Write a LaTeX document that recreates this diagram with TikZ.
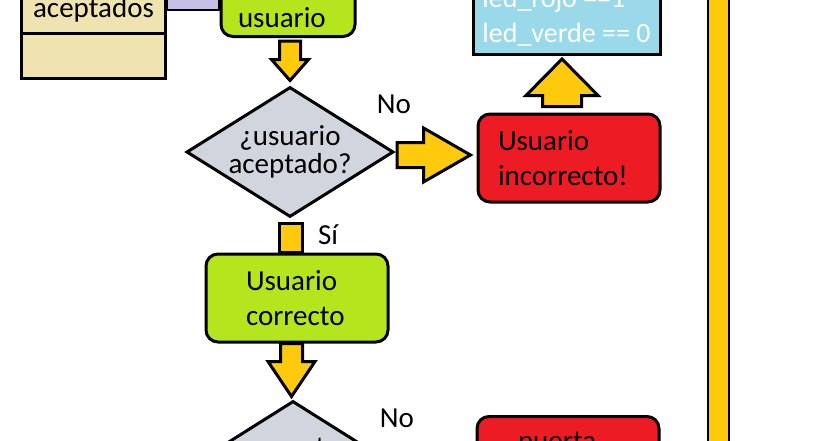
\documentclass[tikz,border=0pt]{standalone}
\usepackage{fontspec}
\setmainfont{Carlito}
\usepackage{xcolor}
\usepackage{tikz}
\usetikzlibrary{calc,shapes.geometric,shapes.multipart}
\definecolor{gold}{HTML}{FFC90E}
\definecolor{lime}{HTML}{B5E61D}
\definecolor{flowred}{HTML}{ED1C24}
\definecolor{sky}{HTML}{99D9EA}
\definecolor{cream}{HTML}{EFE4B0}
\definecolor{lavender}{HTML}{C8BFE7}
\definecolor{diamondgray}{HTML}{D1D5DE}

\begin{document}
\begin{tikzpicture}[x=1pt,y=1pt,
      txt/.style={font=\fontsize{29pt}{35pt}\selectfont},
      procbox/.style={
        txt,
        draw,
        line width=3pt,
        rounded corners=12pt,
        minimum height=88pt,
        align=left
      },
      decision/.style={
        diamond,
        draw,
        fill=diamondgray,
        line width=3pt,
        aspect=1.6,
        inner sep=0pt,
        minimum width=206pt,
        minimum height=130pt,
        align=center,
        font=\fontsize{29pt}{28pt}\selectfont
      },
      fat/.style={draw, fill=gold, line width=3pt},
      lavlink/.style={draw, fill=lavender, line width=2.5pt}
    ]
    \useasboundingbox (0,0) rectangle (838,-440);
    \clip (0,0) rectangle (838,-440);
    \node[rectangle split, rectangle split parts=2, draw, fill=cream, line width=3pt, txt,
      text width=124pt, inner xsep=10pt, inner ysep=10pt, align=center, anchor=south west]
      (db) at (20,-80) {aceptados\nodepart{two}\rule{0pt}{22pt}};
    \node[procbox, fill=lime, anchor=south, minimum height=0pt, text width=100pt, inner xsep=17pt,
      inner ysep=9pt, text height=60pt, text depth=0pt] (u1) at (288,-38) {usuario};
    \node[decision] (q1) at (290,-152) {¿usuario\\aceptado?};
    \node[txt] (no1) at (394,-104) {No};
    \node[procbox, fill=flowred, text width=142pt, inner xsep=20pt] (r1) at (569,-158) {Usuario\\incorrecto!};
    \node[draw, fill=sky, line width=3pt, font=\fontsize{28pt}{35pt}\selectfont, text=white, align=left,
      minimum width=187pt, inner xsep=6pt, inner ysep=8pt, anchor=south] (bl) at (566.5,-56) {led\_rojo ==1\\led\_verde == 0};
    \node[txt] (si) at (328,-235) {Sí};
    \node[procbox, fill=lime, text width=102pt, inner xsep=40pt] (g2) at (297,-298) {Usuario\\correcto};
    \node[decision] (q2) at (293,-466) {¿puerta\\\strut};
    \node[txt] (no2) at (397,-418) {No};
    \node[procbox, fill=flowred, anchor=north, minimum height=0pt, text width=100pt, inner xsep=41pt,
      inner ysep=14pt, text height=20pt, text depth=54pt] (r2) at (568,-415) {puerta};
    \coordinate (barT) at (718.5,5);
    \coordinate (barB) at (718.5,-445);
    \draw[double=gold, double distance=19pt, line width=2pt] (barT) -- (barB);
    \draw[lavlink] let \p1=(db.south east), \p2=(u1.west) in (\x1,\y1+70pt) rectangle (\x2,\y1+110pt);
    \draw[fat] let \p1=(u1.south), \p2=(q1.north) in
      (\x2-10.5pt,\y1-3pt) -- (\x2+10.5pt,\y1-3pt) -- (\x2+10.5pt,\y2+26pt) -- (\x2+18.5pt,\y2+26pt)
      -- (\x2,\y2+5pt) -- (\x2-18.5pt,\y2+26pt) -- (\x2-10.5pt,\y2+26pt) -- cycle;
    \draw[fat] let \p1=(q1.east), \p2=(r1.west) in
      (\x1+2pt,\y1-15.5pt) -- (\x2-53pt,\y1-15.5pt) -- (\x2-53pt,\y1-30pt) -- (\x2-6pt,\y1-3pt)
      -- (\x2-53pt,\y1+24pt) -- (\x2-53pt,\y1+9.5pt) -- (\x1+2pt,\y1+9.5pt) -- cycle;
    \draw[fat] let \p1=(r1.north), \p2=(bl.south) in
      (\x2-24pt,\y1+6pt) -- (\x2+15pt,\y1+6pt) -- (\x2+15pt,\y1+17pt) -- (\x2+31.5pt,\y1+17pt)
      -- (\x2-4.5pt,\y2-3pt) -- (\x2-40.5pt,\y1+17pt) -- (\x2-24pt,\y1+17pt) -- cycle;
    \draw[fat] let \p1=(q1.south), \p2=(g2.north) in (\x1-10.5pt,\y1-5pt) rectangle (\x1+12.5pt,\y2);
    \draw[fat] let \p1=(g2.south), \p2=(q2.north) in
      (\x2-12.5pt,\y1) -- (\x2+9.5pt,\y1) -- (\x2+9.5pt,\y2+38pt) -- (\x2+22pt,\y2+38pt)
      -- (\x2-1.5pt,\y2+3pt) -- (\x2-25pt,\y2+38pt) -- (\x2-12.5pt,\y2+38pt) -- cycle;
  \end{tikzpicture}
\end{document}
